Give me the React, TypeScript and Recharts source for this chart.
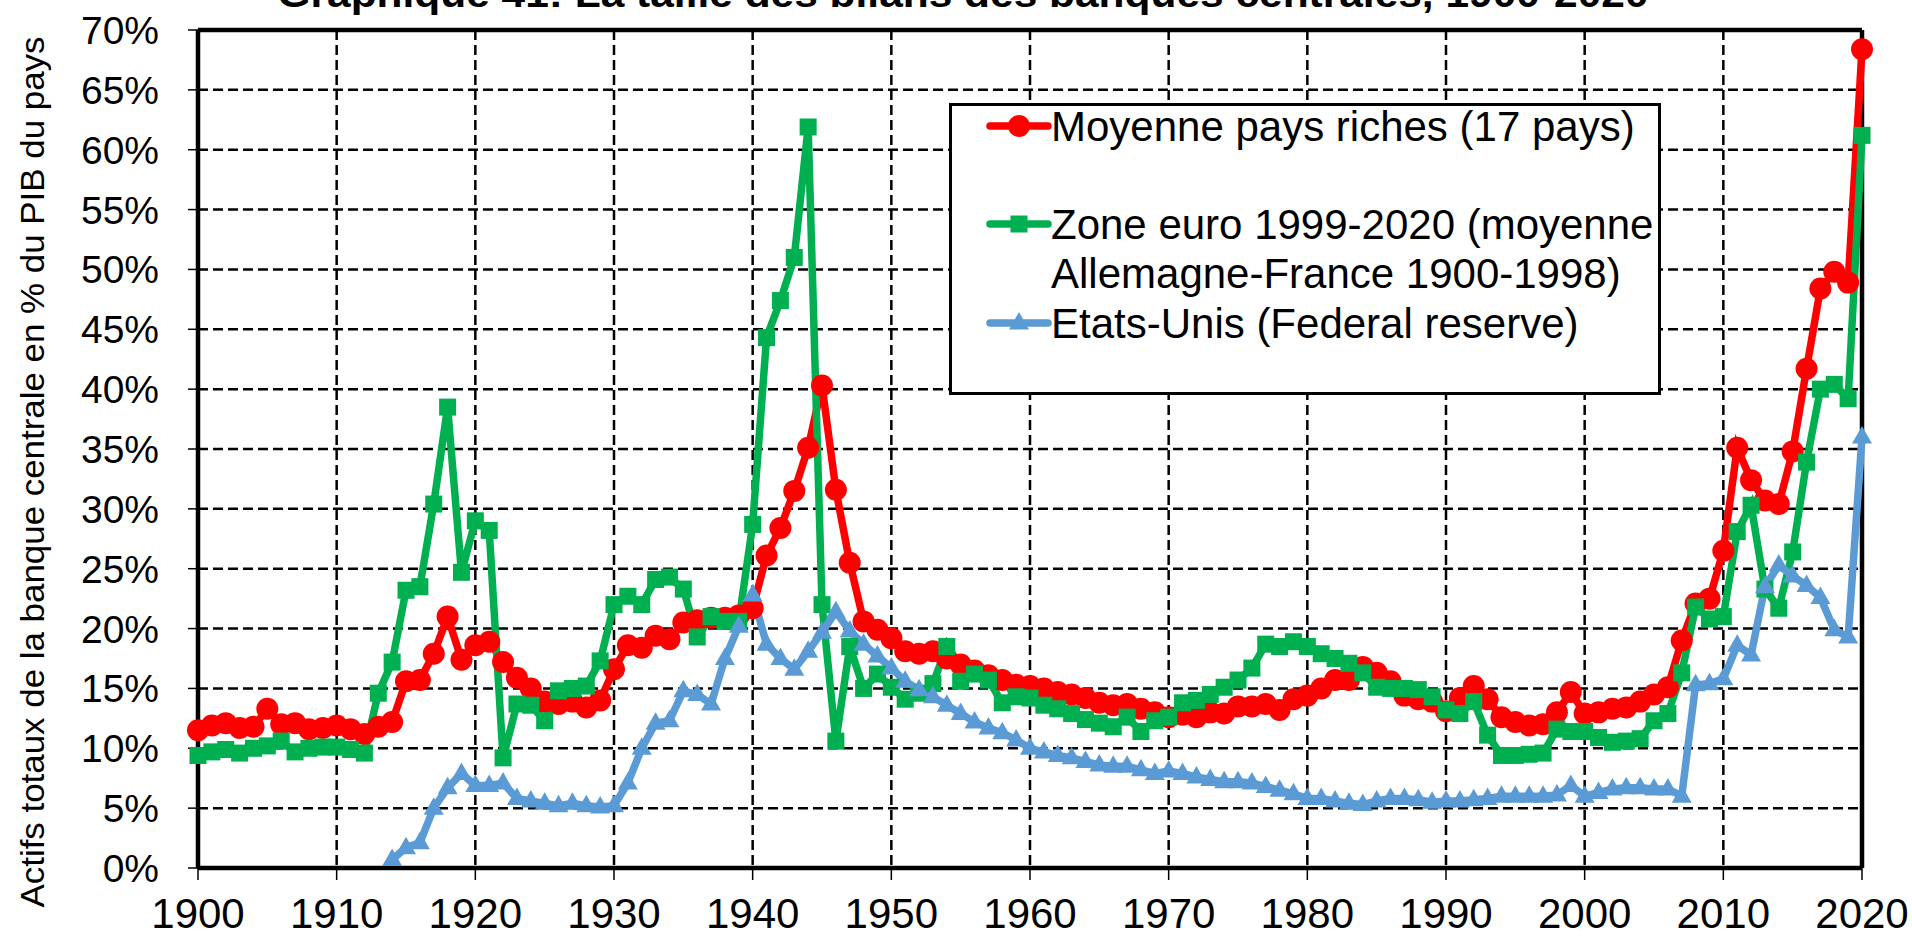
import React from "react";
import {
  LineChart,
  Line,
  XAxis,
  YAxis,
  CartesianGrid,
  Legend,
  ReferenceLine,
} from "recharts";

const FONT = '"Liberation Sans", Arial, sans-serif';
const RED = "#FF0000";
const GREEN = "#00B050";
const BLUE = "#5B9BD5";

// years 1900..2020, one row per decade
const YEARS = [
  1900, 1901, 1902, 1903, 1904, 1905, 1906, 1907, 1908, 1909,
  1910, 1911, 1912, 1913, 1914, 1915, 1916, 1917, 1918, 1919,
  1920, 1921, 1922, 1923, 1924, 1925, 1926, 1927, 1928, 1929,
  1930, 1931, 1932, 1933, 1934, 1935, 1936, 1937, 1938, 1939,
  1940, 1941, 1942, 1943, 1944, 1945, 1946, 1947, 1948, 1949,
  1950, 1951, 1952, 1953, 1954, 1955, 1956, 1957, 1958, 1959,
  1960, 1961, 1962, 1963, 1964, 1965, 1966, 1967, 1968, 1969,
  1970, 1971, 1972, 1973, 1974, 1975, 1976, 1977, 1978, 1979,
  1980, 1981, 1982, 1983, 1984, 1985, 1986, 1987, 1988, 1989,
  1990, 1991, 1992, 1993, 1994, 1995, 1996, 1997, 1998, 1999,
  2000, 2001, 2002, 2003, 2004, 2005, 2006, 2007, 2008, 2009,
  2010, 2011, 2012, 2013, 2014, 2015, 2016, 2017, 2018, 2019,
  2020,
];

// Moyenne pays riches (17 pays), % du PIB
const RICH = [
  11.5, 11.9, 12.1, 11.7, 11.8, 13.3, 12.0, 12.1, 11.6, 11.7,
  11.9, 11.6, 11.2, 11.8, 12.2, 15.6, 15.7, 17.9, 21.0, 17.4,
  18.6, 18.9, 17.2, 15.9, 15.0, 13.9, 13.7, 13.9, 13.4, 14.0,
  16.6, 18.6, 18.4, 19.4, 19.1, 20.5, 20.7, 20.9, 20.9, 21.1,
  21.7, 26.1, 28.4, 31.5, 35.1, 40.3, 31.6, 25.5, 20.6, 19.9,
  19.2, 18.1, 17.9, 18.1, 17.5, 17.0, 16.5, 16.1, 15.7, 15.3,
  15.2, 15.0, 14.7, 14.5, 14.2, 13.8, 13.6, 13.7, 13.3, 13.0,
  12.6, 12.8, 12.6, 13.0, 12.9, 13.5, 13.5, 13.7, 13.2, 14.1,
  14.4, 15.0, 15.7, 15.7, 16.8, 16.3, 15.6, 14.4, 14.1, 13.9,
  13.1, 14.2, 15.2, 14.1, 12.6, 12.2, 11.9, 12.0, 13.0, 14.7,
  12.9, 13.0, 13.3, 13.4, 13.9, 14.5, 15.1, 19.0, 22.1, 22.5,
  26.5, 35.1, 32.4, 30.7, 30.4, 34.8, 41.7, 48.4, 49.8, 48.9,
  68.4,
];

// Zone euro 1999-2020 (moyenne Allemagne-France 1900-1998)
const EURO = [
  9.4, 9.7, 9.9, 9.6, 10.0, 10.2, 10.6, 9.7, 10.0, 10.1,
  10.1, 9.9, 9.6, 14.6, 17.2, 23.2, 23.5, 30.4, 38.5, 24.7,
  29.0, 28.2, 9.2, 13.7, 13.6, 12.3, 14.8, 15.0, 15.2, 17.3,
  22.0, 22.7, 22.0, 24.1, 24.3, 23.3, 19.3, 21.0, 20.6, 20.6,
  28.7, 44.3, 47.4, 51.0, 61.9, 22.0, 10.6, 18.5, 15.0, 16.2,
  15.1, 14.1, 14.6, 15.4, 18.5, 15.6, 16.2, 15.7, 13.8, 14.3,
  14.2, 13.6, 13.3, 12.9, 12.4, 12.1, 11.8, 12.6, 11.4, 12.3,
  12.6, 13.8, 14.0, 14.5, 15.1, 15.7, 16.7, 18.7, 18.5, 18.9,
  18.5, 17.9, 17.5, 17.1, 16.3, 15.1, 15.0, 15.0, 14.9, 14.3,
  13.2, 12.9, 13.9, 11.1, 9.4, 9.4, 9.5, 9.6, 11.6, 11.4,
  11.4, 10.9, 10.5, 10.6, 10.8, 12.3, 12.9, 16.3, 21.8, 20.8,
  21.0, 28.1, 30.3, 23.3, 21.7, 26.4, 33.9, 40.0, 40.4, 39.2,
  61.2,
];

// Etats-Unis (Federal reserve), from 1914
const USA = [
  null, null, null, null, null, null, null, null, null, null,
  null, null, null, null, 0.7, 1.7, 2.1, 5.0, 6.7, 7.9,
  6.9, 6.9, 7.1, 5.8, 5.6, 5.4, 5.2, 5.4, 5.2, 5.1,
  5.2, 7.1, 10.0, 12.1, 12.3, 14.8, 14.5, 13.7, 17.5, 20.2,
  22.8, 18.7, 17.5, 16.6, 18.1, 19.7, 21.4, 19.8, 18.7, 17.7,
  16.7, 15.6, 14.9, 14.3, 13.6, 12.9, 12.2, 11.7, 11.3, 10.7,
  10.0, 9.7, 9.4, 9.2, 8.9, 8.6, 8.5, 8.5, 8.2, 7.9,
  8.1, 7.9, 7.6, 7.4, 7.2, 7.2, 7.1, 6.8, 6.5, 6.2,
  5.8, 5.8, 5.6, 5.4, 5.3, 5.6, 5.8, 5.8, 5.7, 5.5,
  5.6, 5.6, 5.7, 5.8, 6.0, 6.0, 6.0, 6.0, 6.1, 6.9,
  6.0, 6.3, 6.6, 6.7, 6.7, 6.6, 6.6, 6.0, 15.3, 15.4,
  15.8, 18.6, 17.8, 23.5, 25.3, 24.4, 23.6, 22.6, 19.9, 19.3,
  36.0,
];

const X_TICKS = [1900, 1910, 1920, 1930, 1940, 1950, 1960, 1970, 1980, 1990, 2000, 2010, 2020];
const Y_TICKS = [0, 5, 10, 15, 20, 25, 30, 35, 40, 45, 50, 55, 60, 65, 70];

const TITLE = "Graphique 41: La taille des bilans des banques centrales, 1900-2020";
const Y_TITLE = "Actifs totaux de la banque centrale en % du PIB du pays";
const RICH_NAME = "Moyenne pays riches (17 pays)";
const EURO_NAME_1 = "Zone euro 1999-2020 (moyenne";
const EURO_NAME_2 = "Allemagne-France 1900-1998)";
const USA_NAME = "Etats-Unis (Federal reserve)";

const data = YEARS.map((year, i) => ({
  year,
  rich: RICH[i],
  euro: EURO[i],
  usa: USA[i],
}));

const circle = (cx: number, cy: number, key: string) => (
  <circle key={key} cx={cx} cy={cy} r={11} fill={RED} />
);
const square = (cx: number, cy: number, key: string) => (
  <rect key={key} x={cx - 8.5} y={cy - 8.5} width={17} height={17} fill={GREEN} />
);
const triangle = (cx: number, cy: number, key: string) => (
  <polygon
    key={key}
    points={`${cx},${cy - 11} ${cx - 10},${cy + 6.5} ${cx + 10},${cy + 6.5}`}
    fill={BLUE}
  />
);

const makeDot =
  (draw: (cx: number, cy: number, key: string) => React.ReactElement, prefix: string) =>
  (props: any) => {
    const { cx, cy, index, value } = props;
    const key = `${prefix}-${index}`;
    if (cx == null || cy == null || value == null) return <g key={key} />;
    return draw(cx, cy, key);
  };

const XTick = ({ x, y, payload }: any) => (
  <text x={x} y={y} dy={48} textAnchor="middle" fontSize={42} fontFamily={FONT} fill="#000">
    {payload.value}
  </text>
);

const YTick = ({ x, y, payload }: any) => (
  <text x={x} y={y} dx={-29} dy="0.36em" textAnchor="end" fontSize={39} fontFamily={FONT} fill="#000">
    {`${payload.value}%`}
  </text>
);

const LegendBox = () => (
  <div
    style={{
      width: 712,
      height: 292,
      boxSizing: "border-box",
      border: "3px solid #000",
      background: "#fff",
      padding: "6px 0 0 0",
    }}
  >
    <svg width={706} height={280} style={{ display: "block", overflow: "visible" }}>
      <line x1={38} y1={14} x2={96} y2={14} stroke={RED} strokeWidth={7.5} strokeLinecap="round" />
      {circle(67, 14, "lr")}
      <line x1={38} y1={112} x2={96} y2={112} stroke={GREEN} strokeWidth={7.5} strokeLinecap="round" />
      {square(67, 112, "lg")}
      <line x1={38} y1={211} x2={96} y2={211} stroke={BLUE} strokeWidth={7.5} strokeLinecap="round" />
      {triangle(67, 211, "lb")}
      <g fontFamily={FONT} fontSize={42} fill="#000">
        <text x={99} y={29}>{RICH_NAME}</text>
        <text x={99} y={127}>{EURO_NAME_1}</text>
        <text x={99} y={176}>{EURO_NAME_2}</text>
        <text x={99} y={226}>{USA_NAME}</text>
      </g>
    </svg>
  </div>
);

export default function App() {
  return (
    <div style={{ position: "absolute", left: 0, top: 0, width: 1912, height: 937, background: "#fff" }}>
      <LineChart
        width={1912}
        height={937}
        data={data}
        margin={{ top: 30, right: 50, bottom: 0, left: 0 }}
      >
        <CartesianGrid stroke="#000" strokeWidth={2.5} strokeDasharray="10 5" />
        <XAxis
          dataKey="year"
          type="number"
          domain={[1900, 2020]}
          ticks={X_TICKS}
          interval={0}
          height={69}
          tickSize={12}
          tickMargin={0}
          axisLine={{ stroke: "#000", strokeWidth: 4.5 }}
          tickLine={{ stroke: "#000", strokeWidth: 1.5 }}
          tick={<XTick />}
        />
        <YAxis
          type="number"
          domain={[0, 70]}
          ticks={Y_TICKS}
          interval={0}
          width={198}
          tickSize={10}
          tickMargin={0}
          axisLine={{ stroke: "#000", strokeWidth: 4.5 }}
          tickLine={{ stroke: "#000", strokeWidth: 1.5 }}
          tick={<YTick />}
        />
        <ReferenceLine y={70} stroke="#000" strokeWidth={4.5} />
        <ReferenceLine x={2020} stroke="#000" strokeWidth={4.5} />
        <Legend
          layout="horizontal"
          verticalAlign="middle"
          align="center"
          content={<LegendBox />}
          wrapperStyle={{ position: "absolute", left: 949, top: 103, width: 712, height: 292, margin: 0, padding: 0 }}
        />
        <Line
          dataKey="rich"
          name={RICH_NAME}
          stroke={RED}
          strokeWidth={7.5}
          dot={makeDot(circle, "rich")}
          activeDot={false}
          isAnimationActive={false}
        />
        <Line
          dataKey="euro"
          name={EURO_NAME_1}
          stroke={GREEN}
          strokeWidth={7.5}
          dot={makeDot(square, "euro")}
          activeDot={false}
          isAnimationActive={false}
        />
        <Line
          dataKey="usa"
          name={USA_NAME}
          stroke={BLUE}
          strokeWidth={7.5}
          dot={makeDot(triangle, "usa")}
          activeDot={false}
          connectNulls={false}
          isAnimationActive={false}
        />
      </LineChart>
      <svg
        width={1912}
        height={937}
        style={{ position: "absolute", left: 0, top: 0, pointerEvents: "none" }}
      >
        <text
          x={963}
          y={7}
          textAnchor="middle"
          fontFamily={FONT}
          fontWeight="bold"
          fontSize={38}
          textLength={1371}
          lengthAdjust="spacingAndGlyphs"
          fill="#000"
        >
          {TITLE}
        </text>
        <text
          transform="translate(44,472) rotate(-90)"
          textAnchor="middle"
          fontFamily={FONT}
          fontSize={33}
          textLength={871}
          lengthAdjust="spacingAndGlyphs"
          fill="#000"
        >
          {Y_TITLE}
        </text>
      </svg>
    </div>
  );
}
